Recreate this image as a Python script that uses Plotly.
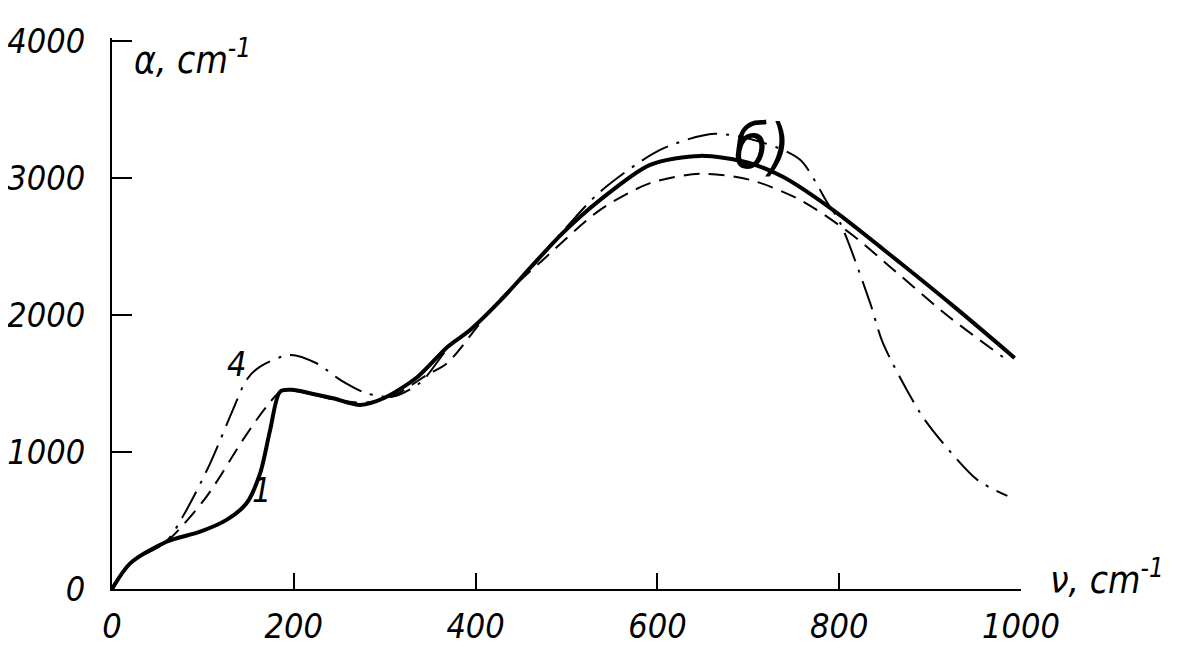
import plotly.graph_objects as go

# --- data (nu in cm^-1, alpha in cm^-1) ---
solid_nu = [0, 20, 60, 97, 126, 148, 163, 174, 185, 198, 220, 243, 273, 300, 336, 369, 394, 428, 461, 496, 537, 592, 647, 700, 738, 793, 867, 930, 993]
solid_alpha = [0, 187, 345, 418, 504, 625, 845, 1161, 1440, 1453, 1425, 1392, 1343, 1395, 1547, 1766, 1890, 2109, 2350, 2598, 2839, 3095, 3160, 3110, 3007, 2766, 2380, 2040, 1686]

dash_nu = [0, 20, 60, 104, 144, 170, 188, 220, 250, 280, 310, 346, 369, 423, 474, 537, 592, 647, 702, 757, 812, 860, 920, 980]
dash_alpha = [0, 187, 345, 674, 1088, 1331, 1450, 1420, 1375, 1360, 1410, 1560, 1650, 2087, 2401, 2766, 2961, 3029, 2985, 2839, 2596, 2328, 1990, 1693]

dashdot_nu = [0, 20, 60, 82, 108, 133, 148, 163, 196, 225, 251, 280, 309, 340, 370, 400, 430, 460, 500, 537, 603, 663, 717, 757, 787, 801, 834, 848, 889, 914, 952, 985]
dashdot_alpha = [0, 187, 350, 577, 917, 1307, 1526, 1623, 1708, 1647, 1526, 1428, 1404, 1510, 1760, 1930, 2120, 2340, 2640, 2898, 3204, 3321, 3255, 3131, 2818, 2672, 2088, 1796, 1285, 1066, 796, 679]

x_ticks = [0, 200, 400, 600, 800, 1000]
y_ticks = [0, 1000, 2000, 3000, 4000]

FONT = "DejaVu Sans Condensed, Liberation Sans Narrow, sans-serif"

fig = go.Figure()
fig.add_trace(go.Scatter(x=dash_nu, y=dash_alpha, mode="lines",
                         line=dict(color="black", width=2, dash="16px,9px", shape="spline", smoothing=0.8)))
fig.add_trace(go.Scatter(x=dashdot_nu, y=dashdot_alpha, mode="lines",
                         line=dict(color="black", width=2, dash="30px,9px,3px,9px", shape="spline", smoothing=0.8)))
fig.add_trace(go.Scatter(x=solid_nu, y=solid_alpha, mode="lines",
                         line=dict(color="black", width=4, shape="spline", smoothing=0.8)))

ann_font = dict(family=FONT, size=37, color="black", style="italic")
fig.add_annotation(x=22, y=3880, xref="x", yref="y", text="α, cm<sup>-1</sup>",
                   showarrow=False, xanchor="left", yanchor="middle", font=ann_font)
fig.add_annotation(x=1.03, y=0.02, xref="paper", yref="paper", text="ν, cm<sup>-1</sup>",
                   showarrow=False, xanchor="left", yanchor="middle", font=ann_font)
fig.add_annotation(x=137, y=1640, xref="x", yref="y", text="4",
                   showarrow=False, font=dict(family=FONT, size=34, color="black", style="italic"))
fig.add_annotation(x=165, y=720, xref="x", yref="y", text="1",
                   showarrow=False, font=dict(family=FONT, size=34, color="black", style="italic"))
fig.add_annotation(x=715, y=3230, xref="x", yref="y", text="б)",
                   showarrow=False, font=dict(family=FONT, size=62, color="black", style="italic"))

tick_font = dict(family=FONT, size=34, color="black", style="italic")
fig.update_layout(
    width=1171, height=640,
    margin=dict(l=104, r=158, t=30, b=59, autoexpand=False),
    paper_bgcolor="white", plot_bgcolor="white",
    showlegend=False,
    xaxis=dict(range=[0, 1000], tickvals=x_ticks, ticktext=[str(v) for v in x_ticks],
               automargin=False,
               showgrid=False, zeroline=False, showline=True, linecolor="black", linewidth=2,
               ticks="inside", ticklen=16, tickwidth=1.5, tickcolor="black",
               tickfont=tick_font, ticklabelstandoff=6),
    yaxis=dict(range=[0, 4020], tickvals=y_ticks, ticktext=[str(v) for v in y_ticks],
               automargin=False,
               showgrid=False, zeroline=False, showline=True, linecolor="black", linewidth=2,
               ticks="inside", ticklen=20, tickwidth=1.5, tickcolor="black",
               tickfont=tick_font, ticklabelstandoff=18),
)
fig.write_html("out.html")
